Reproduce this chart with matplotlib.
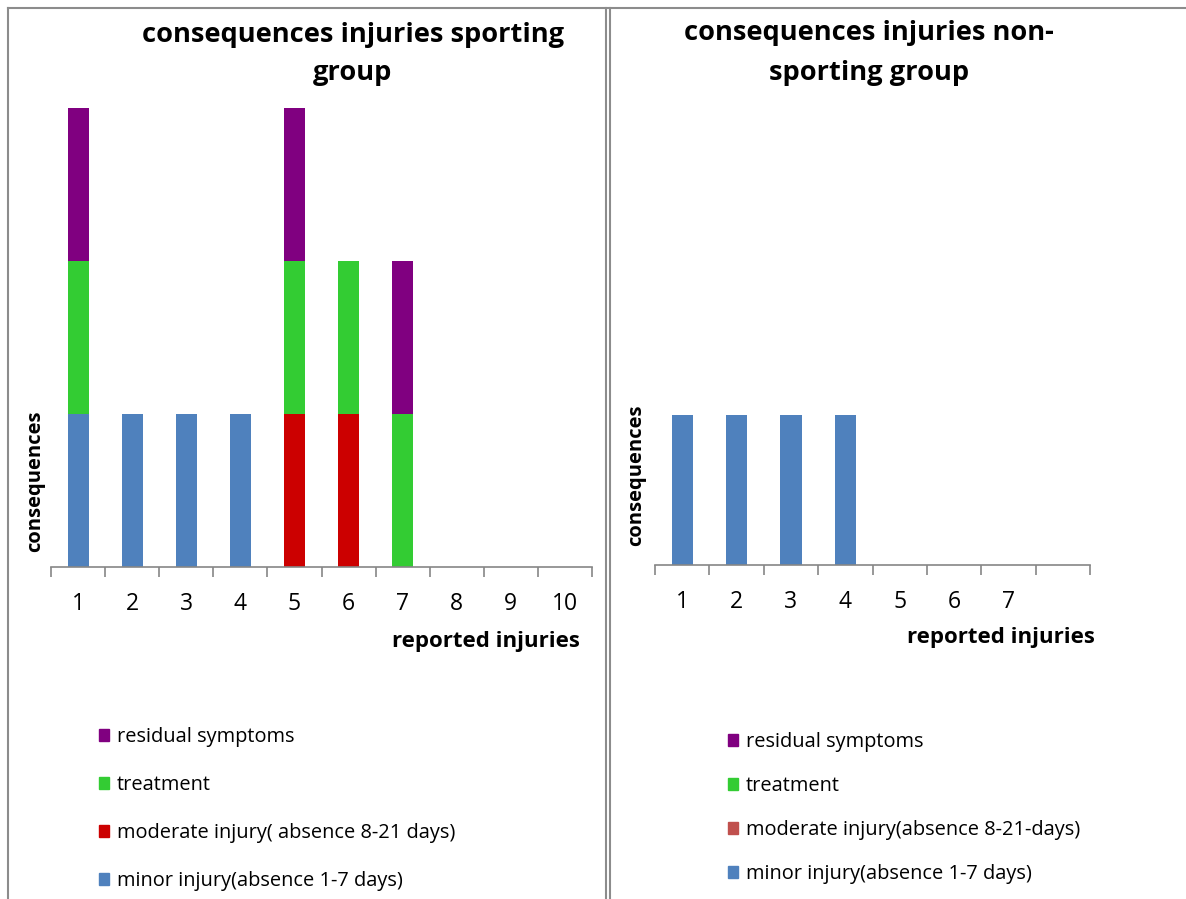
import matplotlib
matplotlib.use('Agg')
import matplotlib.pyplot as plt
from matplotlib.lines import Line2D
from matplotlib.patches import Patch
import numpy as np

plt.rcParams['font.family'] = ['Open Sans', 'DejaVu Sans']

# data: sporting group
cats_sport = ['1', '2', '3', '4', '5', '6', '7', '8', '9', '10']
minor_sport = [1, 1, 1, 1, 0, 0, 0, 0, 0, 0]
moderate_sport = [0, 0, 0, 0, 1, 1, 0, 0, 0, 0]
treatment_sport = [1, 0, 0, 0, 1, 1, 1, 0, 0, 0]
residual_sport = [1, 0, 0, 0, 1, 0, 1, 0, 0, 0]

# data: non-sporting group
cats_non = ['1', '2', '3', '4', '5', '6', '7', '']
minor_non = [1, 1, 1, 1, 0, 0, 0, 0]
moderate_non = [0, 0, 0, 0, 0, 0, 0, 0]
treatment_non = [0, 0, 0, 0, 0, 0, 0, 0]
residual_non = [0, 0, 0, 0, 0, 0, 0, 0]

c_minor = '#4F81BD'
c_mod = '#CC0000'
c_mod2 = '#C0504D'
c_treat = '#33CC33'
c_resid = '#800080'

W, H = 1186, 899
fig = plt.figure(figsize=(W / 100, H / 100), dpi=100)


def px(x0, y0, x1, y1):
    # pixel box (top-left origin) -> figure rect
    return [x0 / W, 1 - y1 / H, (x1 - x0) / W, (y1 - y0) / H]


def draw(ax, cats, minor, moderate, treatment, residual):
    x = np.arange(len(cats))
    b = np.zeros(len(cats))
    for vals, col in [(minor, c_minor), (moderate, c_mod), (treatment, c_treat), (residual, c_resid)]:
        ax.bar(x, vals, bottom=b, width=0.39, color=col, linewidth=0)
        b = b + np.array(vals)
    ax.set_xlim(-0.5, len(cats) - 0.5)
    ax.set_ylim(0, 3)
    for s in ['top', 'right', 'left']:
        ax.spines[s].set_visible(False)
    ax.spines['bottom'].set_color('#868686')
    ax.spines['bottom'].set_linewidth(1.2)
    ax.set_yticks([])
    ax.set_xticks(np.arange(len(cats) + 1) - 0.5)
    ax.set_xticklabels([])
    ax.tick_params(axis='x', which='major', length=7, width=1.2, color='#868686')
    ax.set_xticks(x, minor=True)
    ax.set_xticklabels(cats, minor=True, fontsize=16.5)
    ax.tick_params(axis='x', which='minor', length=0, pad=18)


ax1 = fig.add_axes(px(51, 108, 592, 567))
draw(ax1, cats_sport, minor_sport, moderate_sport, treatment_sport, residual_sport)
ax2 = fig.add_axes(px(655, 115, 1090, 565))
draw(ax2, cats_non, minor_non, moderate_non, treatment_non, residual_non)

# titles
tfs = 19.6
fig.text(353 / W, 1 - 35 / H, 'consequences injuries sporting', ha='center', va='center',
         fontsize=tfs, fontweight='bold')
fig.text(353 / W, 1 - 73 / H, 'group', ha='center', va='center', fontsize=tfs, fontweight='bold')
fig.text(869 / W, 1 - 33 / H, 'consequences injuries non-', ha='center', va='center',
         fontsize=tfs, fontweight='bold')
fig.text(869 / W, 1 - 73 / H, 'sporting group', ha='center', va='center', fontsize=tfs, fontweight='bold')

# axis labels
fig.text(486 / W, 1 - 642 / H, 'reported injuries', ha='center', va='center', fontsize=16, fontweight='bold')
fig.text(1001 / W, 1 - 637 / H, 'reported injuries', ha='center', va='center', fontsize=16, fontweight='bold')
fig.text(35 / W, 1 - 481 / H, 'consequences', ha='center', va='center', rotation=90,
         fontsize=14.5, fontweight='bold')
fig.text(636 / W, 1 - 475 / H, 'consequences', ha='center', va='center', rotation=90,
         fontsize=14.5, fontweight='bold')

# legends
leg1 = [('residual symptoms', c_resid), ('treatment', c_treat),
        ('moderate injury( absence 8-21 days)', c_mod), ('minor injury(absence 1-7 days)', c_minor)]
h1 = [Patch(color=c, label=l) for l, c in leg1]
fig.legend(handles=h1, loc='upper left', bbox_to_anchor=(81 / W, 1 - 709 / H), frameon=False,
           fontsize=14.4, handlelength=0.5, handleheight=0.5, handletextpad=0.4, labelspacing=1.4)
leg2 = [('residual symptoms', c_resid), ('treatment', c_treat),
        ('moderate injury(absence 8-21-days)', c_mod2), ('minor injury(absence 1-7 days)', c_minor)]
h2 = [Patch(color=c, label=l) for l, c in leg2]
fig.legend(handles=h2, loc='upper left', bbox_to_anchor=(710 / W, 1 - 714 / H), frameon=False,
           fontsize=14.4, handlelength=0.5, handleheight=0.5, handletextpad=0.4, labelspacing=1.2)

# panel borders
gray = '#8C8C8C'
for xs, ys in [([8, 8], [8, H]), ([8, W], [8, 8]), ([606, 606], [8, H]), ([610, 610], [8, H])]:
    fig.add_artist(Line2D([v / W for v in xs], [1 - v / H for v in ys], color=gray, linewidth=1.5))

fig.savefig('out.png', dpi=100)
